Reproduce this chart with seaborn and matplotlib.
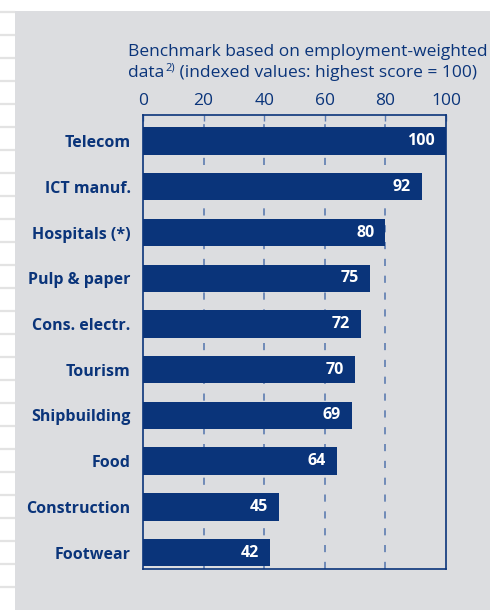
import matplotlib
matplotlib.use("Agg")
import matplotlib.pyplot as plt
import seaborn as sns
import pandas as pd
from matplotlib.patches import Rectangle

categories = ["Telecom", "ICT manuf.", "Hospitals (*)", "Pulp & paper", "Cons. electr.",
              "Tourism", "Shipbuilding", "Food", "Construction", "Footwear"]
values = [100, 92, 80, 75, 72, 70, 69, 64, 45, 42]
xticks = [0, 20, 40, 60, 80, 100]
title_line1 = "Benchmark based on employment-weighted"
title_line2a = "data"
title_sup = "2)"
title_line2b = " (indexed values: highest score = 100)"

sns.set_theme(style="white")
plt.rcParams["font.family"] = ["Open Sans", "DejaVu Sans"]

NAVY = "#0a347a"
GRID = "#5d7cb0"
BG = "#dcdde0"

fig = plt.figure(figsize=(4.9, 6.1), dpi=100)
fig.patch.set_facecolor("white")

# gray panel background
fig.patches.append(Rectangle((15 / 490, 0), 1, 1 - 11 / 610, transform=fig.transFigure,
                             facecolor=BG, edgecolor="none", zorder=-10))
# lined-paper strip on the left
y = 12
while y < 610:
    fig.add_artist(plt.Line2D([0, 15 / 490], [1 - y / 610, 1 - y / 610], transform=fig.transFigure,
                              color="#e3e3e3", lw=1.6, zorder=-10))
    y += 23

ax = fig.add_axes([143 / 490, 1 - 569 / 610, 303 / 490, 454 / 610])
ax.set_zorder(1)
ax.set_facecolor("none")

df = pd.DataFrame({"sector": categories, "value": values})
sns.barplot(data=df, x="value", y="sector", orient="h", color=NAVY, saturation=1,
            width=0.6, ax=ax, zorder=3, linewidth=0, edgecolor="none")

ax.set_xlim(0, 100)
ax.set_ylim(9.36, -0.57)
ax.set_xlabel("")
ax.set_ylabel("")

for v in xticks[1:-1]:
    ax.axvline(v, color=GRID, lw=1.2, ls=(0, (4.3, 5.8)), zorder=1)

ax.xaxis.tick_top()
ax.set_xticks(xticks)
ax.set_xticklabels([str(t) for t in xticks], fontsize=12.5, color=NAVY)
ax.tick_params(axis="x", direction="in", length=4, width=1, color=GRID, pad=4.5, top=True, bottom=False)
ax.tick_params(axis="y", length=0, pad=9)
for lab in ax.get_yticklabels():
    lab.set_fontweight("bold")
    lab.set_fontsize(11.5)
    lab.set_color(NAVY)

for s in ax.spines.values():
    s.set_visible(True)
    s.set_color(NAVY)
    s.set_linewidth(1.2)

for i, v in enumerate(values):
    ax.annotate(str(v), xy=(v, i), xytext=(-8, 0), textcoords="offset points",
                ha="right", va="center", color="white", fontweight="bold", fontsize=11.5, zorder=4)

fig.text(128 / 490, 1 - 52 / 610, title_line1, fontsize=12.5, color=NAVY, ha="left", va="center")
t_a = fig.text(128 / 490, 1 - 73 / 610, title_line2a, fontsize=12.5, color=NAVY, ha="left", va="center")
ann_s = ax.annotate(title_sup, xy=(1, 1), xycoords=t_a, xytext=(0.6, 1.5), textcoords="offset points",
                    fontsize=8, color=NAVY, ha="left", va="top", annotation_clip=False)
ax.annotate(title_line2b, xy=(1, 0), xycoords=(ann_s, t_a), fontsize=12.5, color=NAVY,
            ha="left", va="bottom", annotation_clip=False)

fig.savefig("out.png", dpi=100, facecolor=fig.get_facecolor())
